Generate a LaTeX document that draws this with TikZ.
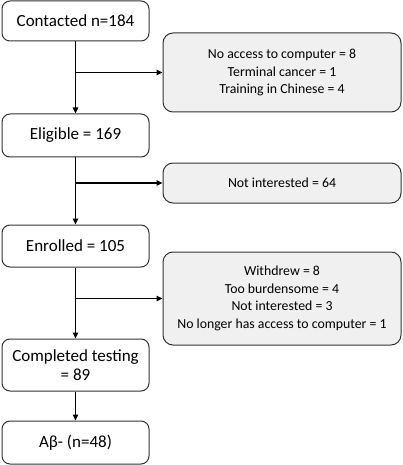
\documentclass[tikz,border=0pt]{standalone}
\usepackage{fontspec}
\setmainfont{Carlito}
\usetikzlibrary{arrows.meta}
\begin{document}
\begin{tikzpicture}
[   x=1pt,y=-1pt,
    stepbox/.style={draw=black!80,line width=1pt,rounded corners=8pt,fill=white,minimum width=147pt,minimum height=#1,align=center,font=\fontsize{17}{19}\selectfont,inner sep=0pt},
    notebox/.style={draw=black!80,line width=1pt,rounded corners=10pt,fill=gray!12,minimum width=238pt,minimum height=#1,align=center,font=\fontsize{13.8}{17.5}\selectfont,inner sep=0pt},
    flow/.style={line width=1.5pt,-{Triangle[length=6pt,width=5.5pt]}},
]
    \useasboundingbox (0,0) rectangle (402,465);
    \node[stepbox=40pt] (contacted) at (75.5,21) {Contacted n=184};
    \node[stepbox=43pt] (eligible) at (75.5,135.5) {Eligible = 169};
    \node[stepbox=42pt] (enrolled) at (75.5,246) {Enrolled = 105};
    \node[stepbox=52pt] (completed) at (75.5,365) {Completed testing\\= 89};
    \node[stepbox=43pt] (abeta) at (75.5,442.5) {Aβ- (n=48)};
    \node[notebox=79pt] (excl-1) at (282,72.5) {No access to computer = 8\\Terminal cancer = 1\\Training in Chinese = 4};
    \node[notebox=40pt] (excl-2) at (282,183) {Not interested = 64};
    \node[notebox=93pt] (excl-3) at (282,298.5) {Withdrew = 8\\Too burdensome = 4\\Not interested = 3\\No longer has access to computer = 1};
    \foreach \a/\b/\e in {contacted/eligible/excl-1, eligible/enrolled/excl-2, enrolled/completed/excl-3}
    {   \draw[flow] (\a) -- (\b);
        \draw[flow] (\a.south |- \e.west) -- (\e);
    }
    \draw[flow] (completed) -- (abeta);
\end{tikzpicture}
\end{document}
